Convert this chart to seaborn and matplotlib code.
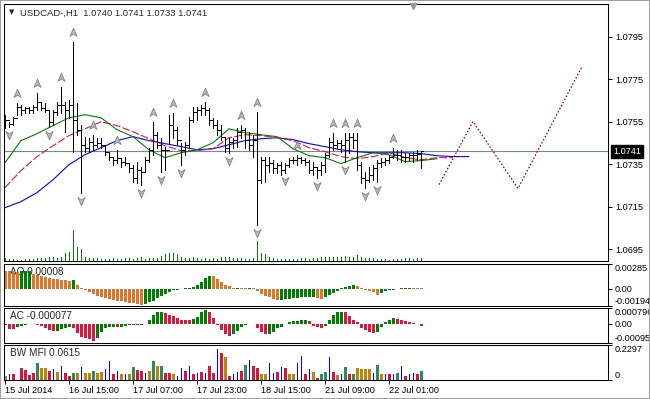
import matplotlib
matplotlib.use("Agg")
import matplotlib.pyplot as plt
import matplotlib.transforms as mtransforms
from matplotlib.patches import Rectangle
import pandas as pd
import seaborn as sns

# ---- price bars (H1, USDCAD) ----
first_open = 1.07536
high = [1.07583, 1.07550, 1.07574, 1.07640, 1.07630, 1.07621, 1.07621, 1.07630, 1.07687, 1.07645,
        1.07640, 1.07607, 1.07607, 1.07645, 1.07715, 1.07645, 1.07654, 1.07927, 1.07640, 1.07536,
        1.07480, 1.07475, 1.07489, 1.07475, 1.07475, 1.07442, 1.07409, 1.07386, 1.07418, 1.07381,
        1.07386, 1.07357, 1.07348, 1.07362, 1.07338, 1.07386, 1.07428, 1.07550, 1.07503, 1.07475,
        1.07433, 1.07583, 1.07593, 1.07527, 1.07451, 1.07456, 1.07574, 1.07621, 1.07621, 1.07630,
        1.07645, 1.07616, 1.07569, 1.07560, 1.07536, 1.07475, 1.07475, 1.07475, 1.07522, 1.07536,
        1.07522, 1.07503, 1.07489, 1.07597, 1.07386, 1.07386, 1.07386, 1.07371, 1.07357, 1.07362,
        1.07357, 1.07381, 1.07386, 1.07395, 1.07386, 1.07381, 1.07371, 1.07362, 1.07338, 1.07362,
        1.07404, 1.07475, 1.07499, 1.07466, 1.07466, 1.07499, 1.07499, 1.07499, 1.07499, 1.07362,
        1.07315, 1.07338, 1.07348, 1.07371, 1.07381, 1.07381, 1.07395, 1.07428, 1.07418, 1.07418,
        1.07404, 1.07404, 1.07409, 1.07418, 1.07410]
low = [1.07522, 1.07527, 1.07536, 1.07583, 1.07583, 1.07593, 1.07593, 1.07593, 1.07607, 1.07607,
       1.07597, 1.07527, 1.07536, 1.07583, 1.07593, 1.07503, 1.07569, 1.07409, 1.07489, 1.07216,
       1.07409, 1.07409, 1.07418, 1.07433, 1.07428, 1.07395, 1.07371, 1.07348, 1.07357, 1.07338,
       1.07348, 1.07315, 1.07268, 1.07263, 1.07254, 1.07315, 1.07362, 1.07395, 1.07428, 1.07315,
       1.07324, 1.07451, 1.07475, 1.07442, 1.07348, 1.07395, 1.07428, 1.07550, 1.07560, 1.07583,
       1.07583, 1.07536, 1.07522, 1.07489, 1.07466, 1.07409, 1.07404, 1.07428, 1.07433, 1.07475,
       1.07428, 1.07418, 1.07386, 1.07065, 1.07263, 1.07268, 1.07315, 1.07310, 1.07310, 1.07301,
       1.07310, 1.07338, 1.07357, 1.07348, 1.07357, 1.07348, 1.07310, 1.07301, 1.07287, 1.07301,
       1.07315, 1.07386, 1.07418, 1.07428, 1.07409, 1.07362, 1.07404, 1.07428, 1.07324, 1.07263,
       1.07240, 1.07268, 1.07277, 1.07268, 1.07338, 1.07348, 1.07357, 1.07381, 1.07371, 1.07362,
       1.07362, 1.07371, 1.07362, 1.07371, 1.07330]
close = [1.07560, 1.07541, 1.07569, 1.07621, 1.07607, 1.07616, 1.07607, 1.07621, 1.07645, 1.07616,
         1.07607, 1.07550, 1.07597, 1.07630, 1.07630, 1.07607, 1.07630, 1.07560, 1.07513, 1.07442,
         1.07428, 1.07456, 1.07442, 1.07451, 1.07442, 1.07409, 1.07386, 1.07371, 1.07381, 1.07362,
         1.07357, 1.07334, 1.07287, 1.07324, 1.07315, 1.07371, 1.07418, 1.07489, 1.07442, 1.07418,
         1.07418, 1.07536, 1.07513, 1.07466, 1.07418, 1.07442, 1.07560, 1.07597, 1.07607, 1.07616,
         1.07607, 1.07560, 1.07536, 1.07513, 1.07480, 1.07428, 1.07456, 1.07466, 1.07503, 1.07513,
         1.07466, 1.07442, 1.07466, 1.07277, 1.07371, 1.07348, 1.07357, 1.07334, 1.07348, 1.07324,
         1.07348, 1.07371, 1.07371, 1.07381, 1.07371, 1.07362, 1.07324, 1.07338, 1.07324, 1.07348,
         1.07395, 1.07456, 1.07442, 1.07451, 1.07442, 1.07466, 1.07480, 1.07466, 1.07348, 1.07287,
         1.07277, 1.07301, 1.07334, 1.07357, 1.07362, 1.07371, 1.07386, 1.07395, 1.07395, 1.07386,
         1.07386, 1.07395, 1.07395, 1.07400, 1.07410]
volume = [300, 200, 250, 100, 150, 200, 200, 250, 300, 300, 350, 450, 400, 350, 450, 800, 900, 3100, 1400, 1200,
          450, 300, 350, 350, 250, 200, 250, 300, 250, 200, 300, 300, 250, 350, 450, 250, 300, 350, 300, 500,
          700, 800, 800, 700, 400, 350, 300, 400, 300, 200, 350, 250, 300, 200, 400, 400, 400, 350, 300, 300,
          250, 250, 350, 2000, 800, 700, 400, 300, 250, 200, 250, 200, 250, 200, 300, 300, 250, 300, 350, 400,
          400, 450, 400, 450, 400, 500, 400, 450, 650, 400, 300, 300, 300, 250, 250, 200, 150, 200, 250, 200,
          300, 350, 250, 300, 350]

# fractals (bar numbers)
fractal_up = [3, 8, 14, 17, 22, 28, 37, 42, 50, 59, 63, 73, 82, 85, 88, 97]
fractal_down = [1, 11, 19, 34, 39, 44, 56, 63, 70, 78, 85, 90, 93]

# moving averages, one value every 4 bars (shifted forward past the last bar)
ma_step = 4
ma_blue = [1.07145, 1.07174, 1.07216, 1.07277, 1.07348, 1.07395, 1.07428, 1.07461, 1.07480, 1.07461,
           1.07447, 1.07433, 1.07418, 1.07423, 1.07442, 1.07461, 1.07470, 1.07475, 1.07466, 1.07447,
           1.07433, 1.07418, 1.07409, 1.07404, 1.07404, 1.07404, 1.07400, 1.07390, 1.07386, 1.07386]
ma_red = [1.07240, 1.07320, 1.07386, 1.07437, 1.07485, 1.07517, 1.07550, 1.07532, 1.07503, 1.07470,
          1.07437, 1.07414, 1.07414, 1.07423, 1.07475, 1.07489, 1.07485, 1.07475, 1.07461, 1.07428,
          1.07409, 1.07386, 1.07376, 1.07386, 1.07404, 1.07381, 1.07371, 1.07381, 1.07381]
ma_green = [1.07357, 1.07461, 1.07494, 1.07532, 1.07569, 1.07583, 1.07569, 1.07513, 1.07480, 1.07418,
            1.07381, 1.07404, 1.07418, 1.07451, 1.07517, 1.07499, 1.07489, 1.07480, 1.07423, 1.07390,
            1.07381, 1.07353, 1.07381, 1.07404, 1.07395, 1.07362, 1.07367, 1.07376]

# zigzag projection
zz_bar = [108.5, 117, 128.25, 144.25]
zz_price = [1.07254, 1.07551, 1.07236, 1.07810]

# ---- oscillators ----
ao = [0.00209, 0.00207, 0.00202, 0.00196, 0.00200, 0.00205, 0.00210, 0.00171, 0.00160, 0.00144,
      0.00133, 0.00125, 0.00114, 0.00112, 0.00106, 0.00104, 0.00095, 0.00102, 0.00045, 0.00011,
      -0.00011, -0.00030, -0.00057, -0.00076, -0.00095, -0.00106, -0.00114, -0.00122, -0.00133, -0.00141,
      -0.00152, -0.00155, -0.00160, -0.00171, -0.00179, -0.00171, -0.00152, -0.00133, -0.00106, -0.00076,
      -0.00057, -0.00030, -0.00015, -0.00008, 0.00004, 0.00011, 0.00013, 0.00027, 0.00045, 0.00084,
      0.00122, 0.00152, 0.00144, 0.00114, 0.00084, 0.00045, 0.00030, 0.00011, 0.00013, 0.00011,
      0.00008, 0.00015, 0.00008, -0.00019, -0.00057, -0.00076, -0.00095, -0.00114, -0.00125, -0.00122,
      -0.00119, -0.00110, -0.00106, -0.00103, -0.00095, -0.00094, -0.00091, -0.00086, -0.00106, -0.00114,
      -0.00095, -0.00068, -0.00045, -0.00019, 0.00011, 0.00027, 0.00038, 0.00045, 0.00030, 0.00011,
      -0.00011, -0.00019, -0.00038, -0.00068, -0.00045, -0.00027, -0.00015, -0.00008, 0.00004, 0.00008,
      0.00012, 0.00013, 0.00009, 0.00008, 0.00008]
ac = [-0.00003, -0.00025, -0.00026, -0.00017, -0.00010, -0.00005, 0.00002, -0.00002, -0.00005, -0.00012,
      -0.00022, -0.00030, -0.00035, -0.00034, -0.00027, -0.00022, -0.00017, -0.00020, -0.00046, -0.00063,
      -0.00071, -0.00076, -0.00083, -0.00071, -0.00038, -0.00022, -0.00017, -0.00013, -0.00014, -0.00013,
      -0.00012, -0.00004, -0.00005, -0.00006, -0.00007, 0.00002, 0.00020, 0.00045, 0.00058, 0.00061,
      0.00053, 0.00045, 0.00042, 0.00032, 0.00020, 0.00019, 0.00018, 0.00025, 0.00037, 0.00058,
      0.00070, 0.00061, 0.00028, -0.00005, -0.00030, -0.00051, -0.00058, -0.00051, -0.00035, -0.00013,
      -0.00005, 0.00000, -0.00002, -0.00018, -0.00038, -0.00051, -0.00050, -0.00038, -0.00022, -0.00013,
      -0.00002, 0.00008, 0.00015, 0.00017, 0.00020, 0.00021, 0.00015, -0.00008, -0.00013, -0.00018,
      -0.00008, 0.00020, 0.00045, 0.00058, 0.00061, 0.00058, 0.00042, 0.00020, 0.00008, -0.00018,
      -0.00030, -0.00038, -0.00046, -0.00038, -0.00013, 0.00012, 0.00020, 0.00028, 0.00027, 0.00020,
      0.00017, 0.00012, 0.00003, -0.00002, -0.000077]
mfi = [0.026, 0.037, 0.037, 0.000, 0.080, 0.066, 0.030, 0.045, 0.112, 0.077,
       0.077, 0.061, 0.073, 0.054, 0.089, 0.049, 0.026, 0.049, 0.049, 0.084,
       0.049, 0.045, 0.056, 0.049, 0.054, 0.073, 0.124, 0.037, 0.061, 0.042,
       0.037, 0.037, 0.084, 0.066, 0.061, 0.049, 0.061, 0.127, 0.091, 0.091,
       0.049, 0.049, 0.037, 0.026, 0.077, 0.061, 0.089, 0.037, 0.049, 0.054,
       0.049, 0.089, 0.049, 0.206, 0.178, 0.150, 0.026, 0.037, 0.054, 0.061,
       0.100, 0.131, 0.089, 0.080, 0.042, 0.037, 0.112, 0.049, 0.054, 0.084,
       0.077, 0.042, 0.042, 0.112, 0.155, 0.037, 0.073, 0.054, 0.014, 0.037,
       0.054, 0.148, 0.054, 0.030, 0.037, 0.084, 0.042, 0.037, 0.077, 0.073,
       0.073, 0.073, 0.049, 0.096, 0.037, 0.037, 0.037, 0.037, 0.049, 0.091,
       0.026, 0.037, 0.049, 0.037, 0.0615]
# G = green, B = brown, F = fake (blue), S = squat (pink), N = first bar
mfi_state = list("NFSSSSSSGB" "BSFBFSSGBF" "BBGBBFFSFB" "FBGSSFBGBG" "SSBFFSFSFS"
                 "FSSFSBSFFS" "GFSSBBFFSF" "SBBFFSFBSG" "GFSBFGSGBB" "BBFGBFSFGF" "SFFSG")

time_ticks = [0, 16, 32, 48, 64, 80, 96]
time_labels = ["15 Jul 2014", "16 Jul 15:00", "17 Jul 07:00", "17 Jul 23:00",
               "18 Jul 15:00", "21 Jul 09:00", "22 Jul 01:00"]

price_ticks = [1.0695, 1.0715, 1.0735, 1.0755, 1.0775, 1.0795]
last_price = 1.0741
header = "USDCAD-,H1  1.0740 1.0741 1.0733 1.0741"

# ---- build frames ----
bars = pd.DataFrame({"high": high, "low": low, "close": close, "volume": volume})
bars["bar"] = range(len(bars))
bars["open"] = [first_open] + close[:-1]

osc = pd.DataFrame({"ao": ao, "ac": ac, "mfi": mfi, "state": mfi_state})
osc["bar"] = range(len(osc))

ma = {}
for name, vals in (("blue", ma_blue), ("red", ma_red), ("green", ma_green)):
    ma[name] = pd.DataFrame({"bar": [i * ma_step for i in range(len(vals))], "price": vals})

sns.set_theme(style="white")
plt.rcParams["font.family"] = ["Liberation Sans", "DejaVu Sans"]
FS = 6.6
PX = 0.72  # one pixel, in points

W, H = 650, 399
fig = plt.figure(figsize=(W / 100, H / 100), dpi=100)
fig.patch.set_facecolor("white")


def right_ticks(a):
    a.yaxis.tick_right()
    a.tick_params(axis="y", direction="out", length=3, width=0.7, pad=2,
                  labelsize=FS, colors="black", right=True, left=False,
                  labelright=True, labelleft=False)


def panel(top, bottom, left=4, right=608):
    a = fig.add_axes([left / W, 1 - bottom / H, (right - left) / W, (bottom - top) / H])
    a.set_xlim(-0.25, 150.75)
    a.set_facecolor("white")
    for s in a.spines.values():
        s.set_color("black")
        s.set_linewidth(0.75)
    right_ticks(a)
    a.tick_params(axis="x", bottom=False, labelbottom=False)
    a.grid(False)
    return a


ax = panel(4, 261)
ax_ao = panel(264, 306)
ax_ac = panel(308, 343)
ax_mfi = panel(345, 380)

# ---- volume (at the bottom of the main window) ----
ax_v = ax.twinx()
ax_v.vlines(bars["bar"], 0, bars["volume"], color="#008000", lw=PX, antialiased=False)
ax_v.set_ylim(0, 25700)
ax_v.set_yticks([])
for s in ax_v.spines.values():
    s.set_visible(False)
ax_v.set_xlim(-0.25, 150.75)
right_ticks(ax)

# ---- main chart ----
ax.set_ylim(1.06894, 1.08105)
ax.set_yticks(price_ticks)
ax.set_yticklabels([f"{p:.4f}" for p in price_ticks])

ax.axhline(last_price, color="#778899", lw=0.8, zorder=1)

for name, col, ls in (("blue", "#0000ff", "-"), ("red", "#e0143c", (0, (7, 2))), ("green", "#008000", "-")):
    sns.lineplot(data=ma[name], x="bar", y="price", color=col, lw=0.8, linestyle=ls, ax=ax, zorder=2)

ax.vlines(bars["bar"], bars["low"], bars["high"], color="black", lw=PX, zorder=3, antialiased=False)
ax.hlines(bars["open"], bars["bar"] - 0.45, bars["bar"], color="black", lw=PX, zorder=3, antialiased=False)
ax.hlines(bars["close"], bars["bar"], bars["bar"] + 0.45, color="black", lw=PX, zorder=3, antialiased=False)

sns.lineplot(x=zz_bar, y=zz_price, color="#8b0000", lw=0.9, linestyle=(0, (1.2, 1.6)), ax=ax, zorder=2)

up_marker = [(0, 1), (0.8, -0.9), (0, -0.35), (-0.8, -0.9), (0, 1)]
dn_marker = [(x, -y) for x, y in up_marker]
up = bars.loc[fractal_up]
dn = bars.loc[fractal_down]
t_up = mtransforms.offset_copy(ax.transData, fig=fig, x=0, y=10, units="dots")
t_dn = mtransforms.offset_copy(ax.transData, fig=fig, x=0, y=-8, units="dots")
ax.scatter(up["bar"], up["high"], marker=up_marker, s=42, c="#b4b4b4", edgecolors="#7c7c7c",
           linewidths=0.5, transform=t_up, zorder=4)
ax.scatter(dn["bar"], dn["low"], marker=dn_marker, s=42, c="#b4b4b4", edgecolors="#7c7c7c",
           linewidths=0.5, transform=t_dn, zorder=4)

ax.set_xlabel("")
ax.set_ylabel("")

ax.annotate(f"{last_price:.4f}", xy=(1, last_price), xycoords=("axes fraction", "data"),
            xytext=(5, 0), textcoords="offset pixels", va="center", ha="left", fontsize=FS,
            color="white", bbox=dict(boxstyle="square,pad=0.2", fc="black", ec="black"),
            annotation_clip=False, zorder=10)

ax.plot([0.677], [1.0], marker="v", ms=5, color="#8e9bad", transform=mtransforms.offset_copy(
    ax.transAxes, fig=fig, x=0, y=-2, units="dots"), clip_on=False, zorder=10)

fig.text(9 / W, 1 - 12.5 / H, "\u25bc", fontsize=5, va="center", ha="left", family=["DejaVu Sans"])
fig.text(20 / W, 1 - 13 / H, header, fontsize=FS + 0.2, va="center", ha="left")

# ---- AO ----
ao_col = ["#e07628"] + ["#008000" if b > a else "#e07628" for a, b in zip(ao[:-1], ao[1:])]
ax_ao.bar(osc["bar"], osc["ao"], width=0.75, color=ao_col, lw=0, antialiased=False, zorder=2)
ax_ao.set_ylim(-0.00194, 0.00285)
ax_ao.set_yticks([-0.00194, 0, 0.00285])
ax_ao.set_yticklabels(["-0.00194", "0.00", "0.00285"])
ax_ao.text(6 / 604, 0.80, f"AO {ao[-1]:.5f}", transform=ax_ao.transAxes, fontsize=FS + 0.6,
           va="center", ha="left", zorder=1)

# ---- AC ----
ac_col = ["#e0143c"] + ["#008000" if b > a else "#e0143c" for a, b in zip(ac[:-1], ac[1:])]
ax_ac.bar(osc["bar"], osc["ac"], width=0.75, color=ac_col, lw=0, antialiased=False, zorder=2)
ax_ac.set_ylim(-0.00095, 0.000796)
ax_ac.set_yticks([-0.00095, 0, 0.000796])
ax_ac.set_yticklabels(["-0.00095", "0.00", "0.000796"])
ax_ac.text(6 / 604, 0.76, f"AC {ac[-1]:.6f}", transform=ax_ac.transAxes, fontsize=FS + 0.6,
           va="center", ha="left", zorder=1)

# ---- BW MFI ----
state_col = {"G": "#2e8b57", "B": "#b8860b", "F": "#0000ff", "S": "#dc143c", "N": "#8c8c8c"}
for st, grp in osc.groupby("state"):
    w = 0.25 if st == "F" else 0.75
    ax_mfi.bar(grp["bar"], grp["mfi"], width=w, color=state_col[st], lw=0, antialiased=False, zorder=2)
ax_mfi.set_ylim(0, 0.2297)
ax_mfi.set_yticks([0, 0.2297])
ax_mfi.set_yticklabels(["0", "0.2297"])
ax_mfi.text(6 / 604, 0.76, f"BW MFI {mfi[-1]:.4f}", transform=ax_mfi.transAxes, fontsize=FS + 0.6,
            va="center", ha="left", zorder=1)
ax_mfi.set_xticks(time_ticks)
ax_mfi.set_xticklabels(time_labels)
ax_mfi.tick_params(axis="x", bottom=True, labelbottom=True, direction="out", length=3, width=0.7,
                   pad=1.5, labelsize=FS, colors="black")
for lbl in ax_mfi.get_xticklabels():
    lbl.set_ha("left")

for a in (ax_ao, ax_ac, ax_mfi):
    labels = a.get_yticklabels()
    labels[0].set_va("bottom")
    labels[-1].set_va("top")
    a.set_xlim(-0.25, 150.75)
    a.set_xlabel("")
    a.set_ylabel("")

fig.add_artist(Rectangle((0, 0), 1, 1, transform=fig.transFigure, fill=False,
                         edgecolor="#a0a0a0", lw=1.5))

fig.savefig("out.png", dpi=100, facecolor="white")
